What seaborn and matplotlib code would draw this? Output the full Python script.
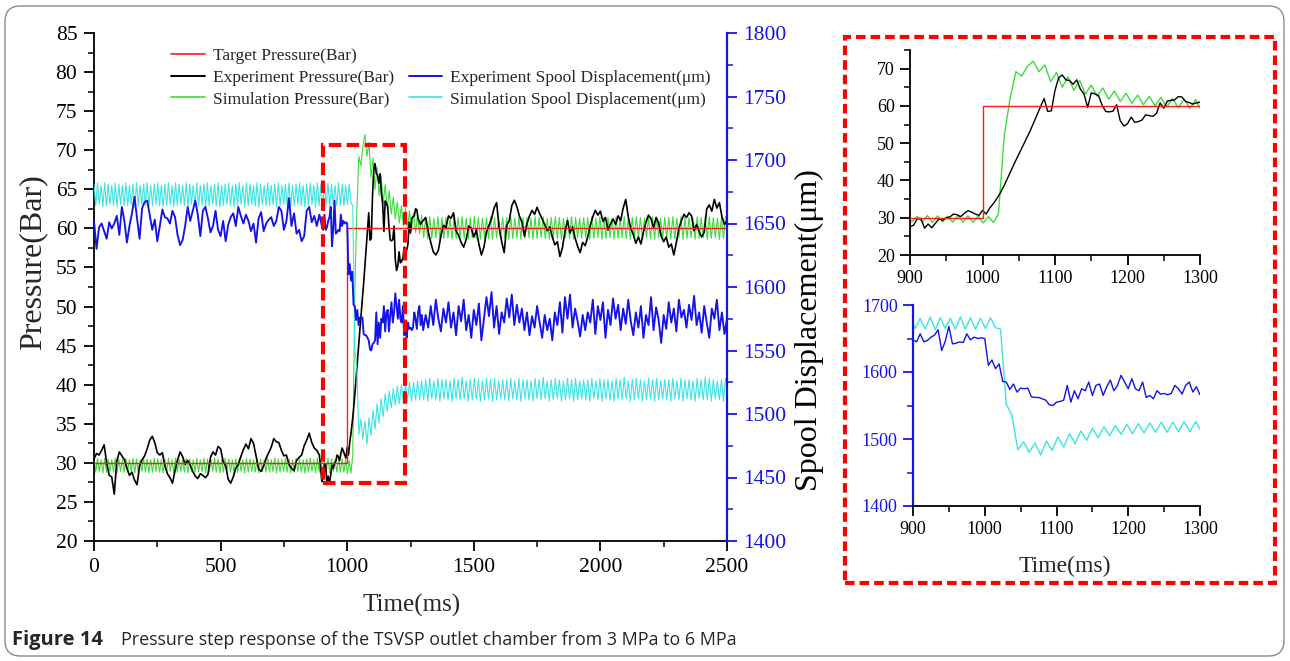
import numpy as np
import matplotlib
matplotlib.use("Agg")
import matplotlib.pyplot as plt
import seaborn as sns
from matplotlib.patches import Rectangle, FancyBboxPatch
from matplotlib.lines import Line2D
from matplotlib.ticker import MultipleLocator

# ---------------------------------------------------------------- data
# target pressure step (Bar)
target_time = [0, 1000, 1000, 2500]
target_pressure = [30, 30, 60, 60]

# measured signals: three segments (start ms, sample step ms)
exp_seg_start = [0, 900, 1300]
exp_seg_step = [10, 5, 10]

exp_pressure_a = [
    30.5, 31.2, 31.0, 31.6, 32.3, 30.0, 28.4, 28.2, 26.0, 30.2,
    31.4, 30.9, 30.4, 29.3, 28.4, 28.8, 27.8, 27.2, 29.6, 30.4,
    30.9, 31.8, 32.9, 33.4, 32.6, 31.3, 31.0, 31.3, 29.6, 28.6,
    28.1, 27.4, 29.0, 30.4, 31.4, 30.8, 29.8, 30.3, 29.7, 28.9,
    28.3, 28.0, 28.6, 28.4, 28.1, 28.5, 30.7, 31.4, 31.0, 32.1,
    31.8, 30.2, 29.6, 27.9, 27.4, 28.2, 29.3, 29.8, 30.8, 31.7,
    32.4, 31.8, 33.1, 32.5, 30.9, 29.2, 28.9, 29.6, 30.6, 31.3,
    32.0, 33.1, 32.7, 32.6, 31.6, 30.9, 31.0, 29.8, 29.3, 29.0,
    30.3, 30.7, 31.0, 32.2, 32.9, 33.8, 32.6, 31.9, 31.6, 31.0,
]
exp_pressure_b = [
    27.6, 28.0, 29.7, 29.8, 27.2, 28.3, 27.3, 28.5, 29.7, 29.3,
    30.0, 30.2, 31.0, 30.8, 30.3, 31.2, 31.9, 31.5, 31.0, 30.6,
    32.0, 31.0, 32.6, 33.8, 35.2, 36.8, 38.7, 40.8, 42.9, 45.0,
    47.0, 49.0, 51.0, 53.0, 55.2, 57.5, 59.8, 62.0, 58.5, 58.7,
    64.2, 67.5, 68.3, 67.0, 66.8, 65.8, 67.0, 64.5, 63.2, 59.6,
    63.5, 63.2, 62.8, 60.2, 58.5, 58.4, 58.6, 60.3, 56.0, 54.6,
    55.2, 57.0, 55.6, 55.8, 56.2, 57.6, 57.4, 57.2, 58.0, 60.8,
    59.4, 61.3, 61.5, 61.6, 62.5, 62.4, 61.2, 60.9, 60.5, 60.8,
]
exp_pressure_c = [
    61.0, 61.4, 59.6, 58.2, 57.0, 56.6, 57.2, 59.0, 60.4, 60.1,
    61.6, 61.3, 62.0, 59.7, 59.1, 58.2, 57.6, 58.6, 60.3, 60.0,
    58.9, 59.8, 58.0, 56.6, 57.6, 59.5, 60.4, 61.2, 62.6, 63.3,
    60.1, 58.3, 56.9, 60.4, 61.0, 62.9, 63.6, 62.8, 61.6, 60.8,
    59.0, 60.6, 61.6, 62.3, 61.8, 62.7, 61.9, 61.2, 60.5, 59.7,
    60.2, 58.9, 57.9, 58.3, 56.4, 57.5, 59.6, 61.0, 59.4, 60.2,
    58.8, 57.7, 56.9, 58.2, 57.8, 58.9, 60.4, 61.5, 62.3, 61.7,
    62.2, 60.9, 61.4, 59.8, 60.6, 61.2, 60.5, 61.6, 61.0, 62.6,
    63.7, 61.5, 60.0, 59.2, 58.1, 58.9, 58.0, 59.5, 60.8, 61.7,
    61.2, 60.1, 61.4, 60.7, 59.0, 58.3, 58.9, 57.6, 58.0, 56.6,
    58.2, 60.0, 61.0, 61.8, 61.4, 62.0, 61.6, 59.7, 60.5, 59.6,
    58.9, 59.5, 62.5, 63.0, 62.2, 63.7, 62.6, 63.3, 61.5, 60.5,
    61.0,
]

exp_disp_a = [
    1652, 1630, 1647, 1650, 1644, 1638, 1651, 1646, 1650, 1656,
    1641, 1663, 1652, 1635, 1648, 1658, 1671, 1654, 1638, 1662,
    1667, 1668, 1657, 1645, 1653, 1636, 1648, 1661, 1655, 1654,
    1650, 1660, 1655, 1641, 1633, 1637, 1648, 1663, 1652, 1660,
    1668, 1657, 1640, 1660, 1663, 1654, 1643, 1648, 1660, 1645,
    1640, 1652, 1636, 1649, 1655, 1658, 1648, 1663, 1656, 1650,
    1657, 1652, 1644, 1650, 1635, 1654, 1659, 1644, 1650, 1653,
    1655, 1648, 1652, 1663, 1660, 1645, 1652, 1670, 1648, 1658,
    1642, 1645, 1636, 1640, 1660, 1663, 1651, 1656, 1648, 1657,
]
exp_disp_b = [
    1648, 1645, 1657, 1645, 1647, 1652, 1655, 1663, 1632, 1646,
    1668, 1642, 1643, 1645, 1644, 1657, 1648, 1652, 1650, 1651,
    1650, 1610, 1618, 1605, 1612, 1586, 1585, 1574, 1582, 1570,
    1576, 1575, 1576, 1563, 1562, 1562, 1560, 1558, 1551, 1550,
    1555, 1556, 1558, 1580, 1555, 1572, 1560, 1575, 1572, 1585,
    1565, 1580, 1582, 1565, 1578, 1588, 1572, 1580, 1595, 1585,
    1575, 1590, 1575, 1572, 1585, 1562, 1565, 1560, 1572, 1567,
    1568, 1566, 1568, 1580, 1575, 1567, 1580, 1585, 1570, 1578,
]
exp_disp_c = [
    1566, 1578, 1568, 1585, 1570, 1590, 1575, 1565, 1583, 1572,
    1588, 1568, 1580, 1562, 1585, 1573, 1590, 1566, 1578, 1560,
    1582, 1570, 1587, 1558, 1575, 1592, 1577, 1596, 1568, 1585,
    1563, 1580, 1572, 1591, 1576, 1594, 1570, 1586, 1572, 1583,
    1566, 1580, 1562, 1577, 1568, 1585, 1572, 1560, 1578, 1566,
    1575, 1558, 1580, 1570, 1588, 1564, 1592, 1575, 1594, 1568,
    1583, 1573, 1561, 1578, 1566, 1580, 1572, 1590, 1563, 1585,
    1574, 1588, 1560, 1582, 1570, 1591, 1575, 1586, 1566, 1583,
    1571, 1590, 1573, 1562, 1580, 1568, 1585, 1560, 1578, 1570,
    1592, 1566, 1584, 1574, 1556, 1578, 1567, 1588, 1572, 1583,
    1565, 1590, 1576, 1582, 1568, 1586, 1574, 1593, 1570, 1580,
    1564, 1585, 1572, 1560, 1583, 1575, 1590, 1566, 1580, 1563,
    1575,
]

# simulated signals: peak / trough samples (start ms, sample step ms)
sim_seg_start = [0, 1022]
sim_seg_step = [7, 8]

sim_pressure_a = [
    30.5, 28.8, 30.6, 28.9, 30.4, 28.7, 30.6, 28.8, 30.5, 28.9, 30.4, 28.8, 30.6, 28.7, 30.5, 28.9, 30.4, 28.8, 30.6, 28.8,
    30.4, 28.9, 30.6, 28.7, 30.5, 28.8, 30.4, 28.9, 30.6, 28.8, 30.5, 28.7, 30.4, 28.8, 30.6, 28.9, 30.5, 28.8, 30.4, 28.7,
    30.5, 28.8, 30.6, 28.9, 30.4, 28.7, 30.6, 28.8, 30.5, 28.9, 30.4, 28.8, 30.6, 28.7, 30.5, 28.9, 30.4, 28.8, 30.6, 28.8,
    30.4, 28.9, 30.6, 28.7, 30.5, 28.8, 30.4, 28.9, 30.6, 28.8, 30.5, 28.7, 30.4, 28.8, 30.6, 28.9, 30.5, 28.8, 30.4, 28.7,
    30.5, 28.8, 30.6, 28.9, 30.4, 28.7, 30.6, 28.8, 30.5, 28.9, 30.4, 28.8, 30.6, 28.7, 30.5, 28.9, 30.4, 28.8, 30.6, 28.8,
    30.4, 28.9, 30.6, 28.7, 30.5, 28.8, 30.4, 28.9, 30.6, 28.8, 30.5, 28.7, 30.4, 28.8, 30.6, 28.9, 30.5, 28.8, 30.4, 28.7,
    30.5, 28.8, 30.6, 28.9, 30.4, 28.7, 30.6, 28.8, 30.5, 28.9, 30.4, 28.8, 30.6, 28.7, 30.5, 28.9, 30.4, 28.8, 30.6, 28.8,
    30.5, 28.8, 30.4, 28.6, 30.3, 28.7,
]
sim_pressure_b = [
    31.0, 52.0, 62.0, 69.2, 68.0, 70.6, 72.0, 69.2, 71.0, 66.5,
    69.0, 65.0, 67.8, 64.2, 66.8, 63.2, 65.6, 62.6, 64.8, 61.8,
    64.0, 61.2, 63.4, 60.7, 62.9, 60.3, 62.6, 60.0, 62.3, 59.7,
    62.0, 59.5, 61.8, 59.3, 61.7,
    58.8, 61.4, 58.6, 61.5, 58.7, 61.3, 58.8, 61.5, 58.6, 61.4, 58.7, 61.4, 58.8, 61.3, 58.6, 61.5, 58.7, 61.4, 58.8, 61.5,
    58.7, 61.3, 58.6, 61.4, 58.8, 61.5, 58.7, 61.4, 58.6, 61.3, 58.8, 61.4, 58.7, 61.5, 58.6, 61.4, 58.8, 61.3, 58.7, 61.4,
    58.8, 61.4, 58.6, 61.5, 58.7, 61.3, 58.8, 61.5, 58.6, 61.4, 58.7, 61.4, 58.8, 61.3, 58.6, 61.5, 58.7, 61.4, 58.8, 61.5,
    58.7, 61.3, 58.6, 61.4, 58.8, 61.5, 58.7, 61.4, 58.6, 61.3, 58.8, 61.4, 58.7, 61.5, 58.6, 61.4, 58.8, 61.3, 58.7, 61.4,
    58.8, 61.4, 58.6, 61.5, 58.7, 61.3, 58.8, 61.5, 58.6, 61.4, 58.7, 61.4, 58.8, 61.3, 58.6, 61.5, 58.7, 61.4, 58.8, 61.5,
    58.7, 61.3, 58.6, 61.4, 58.8, 61.5, 58.7, 61.4, 58.6, 61.3, 58.8, 61.4, 58.7, 61.5, 58.6, 61.4, 58.8, 61.3, 58.7, 61.4,
    58.8, 61.4, 58.6, 61.5, 58.7, 61.3, 58.8, 61.5, 58.6, 61.4, 58.7, 61.4, 58.8, 61.3, 58.6, 61.5, 58.7, 61.4, 58.8, 61.5,
    58.6, 61.5, 58.7, 61.4, 58.8, 61.3, 58.6, 61.4, 58.7, 61.5,
]

sim_disp_a = [
    1681, 1664, 1682, 1665, 1680, 1663, 1682, 1664, 1681, 1665, 1680, 1664, 1682, 1663, 1681, 1665, 1680, 1664, 1682, 1664,
    1680, 1665, 1681, 1663, 1682, 1664, 1680, 1665, 1681, 1664, 1682, 1663, 1680, 1664, 1681, 1665, 1682, 1664, 1680, 1663,
    1681, 1664, 1682, 1665, 1680, 1663, 1682, 1664, 1681, 1665, 1680, 1664, 1682, 1663, 1681, 1665, 1680, 1664, 1682, 1664,
    1680, 1665, 1681, 1663, 1682, 1664, 1680, 1665, 1681, 1664, 1682, 1663, 1680, 1664, 1681, 1665, 1682, 1664, 1680, 1663,
    1681, 1664, 1682, 1665, 1680, 1663, 1682, 1664, 1681, 1665, 1680, 1664, 1682, 1663, 1681, 1665, 1680, 1664, 1682, 1664,
    1680, 1665, 1681, 1663, 1682, 1664, 1680, 1665, 1681, 1664, 1682, 1663, 1680, 1664, 1681, 1665, 1682, 1664, 1680, 1663,
    1681, 1664, 1682, 1665, 1680, 1663, 1682, 1664, 1681, 1665, 1680, 1664, 1682, 1663, 1681, 1665, 1680, 1664, 1682, 1664,
    1681, 1664, 1680, 1665, 1681, 1666,
]
sim_disp_b = [
    1664, 1552, 1535, 1484, 1496, 1480, 1494, 1476, 1497, 1483,
    1503, 1488, 1508, 1493, 1512, 1498, 1516, 1502, 1518, 1505,
    1520, 1507, 1522, 1508, 1523, 1509, 1524, 1510, 1525, 1510,
    1525, 1511, 1526, 1511, 1526,
    1511, 1527, 1510, 1528, 1512, 1526, 1511, 1528, 1510, 1527, 1512, 1527, 1511, 1526, 1510, 1528, 1512, 1527, 1511, 1529,
    1512, 1526, 1510, 1527, 1511, 1528, 1512, 1527, 1510, 1526, 1511, 1528, 1512, 1527, 1510, 1528, 1511, 1526, 1512, 1527,
    1511, 1527, 1510, 1528, 1512, 1526, 1511, 1528, 1510, 1527, 1512, 1527, 1511, 1526, 1510, 1528, 1512, 1527, 1511, 1529,
    1512, 1526, 1510, 1527, 1511, 1528, 1512, 1527, 1510, 1526, 1511, 1528, 1512, 1527, 1510, 1528, 1511, 1526, 1512, 1527,
    1511, 1527, 1510, 1528, 1512, 1526, 1511, 1528, 1510, 1527, 1512, 1527, 1511, 1526, 1510, 1528, 1512, 1527, 1511, 1529,
    1512, 1526, 1510, 1527, 1511, 1528, 1512, 1527, 1510, 1526, 1511, 1528, 1512, 1527, 1510, 1528, 1511, 1526, 1512, 1527,
    1511, 1527, 1510, 1528, 1512, 1526, 1511, 1528, 1510, 1527, 1512, 1527, 1511, 1526, 1510, 1528, 1512, 1527, 1511, 1529,
    1511, 1528, 1510, 1527, 1512, 1526, 1511, 1527, 1510, 1528,
]

legend_labels = [
    "Target Pressure(Bar)", "Experiment Pressure(Bar)", "Simulation Pressure(Bar)",
    "", "Experiment Spool Displacement(\u03bcm)", "Simulation Spool Displacement(\u03bcm)",
]


def assemble(starts, steps, chunks):
    t, y = [], []
    for s, d, c in zip(starts, steps, chunks):
        t.append(s + d * np.arange(len(c)))
        y.append(np.asarray(c, dtype=float))
    return np.concatenate(t), np.concatenate(y)


t_exp, exp_pressure = assemble(exp_seg_start, exp_seg_step,
                               [exp_pressure_a, exp_pressure_b, exp_pressure_c])
_, exp_disp = assemble(exp_seg_start, exp_seg_step, [exp_disp_a, exp_disp_b, exp_disp_c])
t_sim, sim_pressure = assemble(sim_seg_start, sim_seg_step, [sim_pressure_a, sim_pressure_b])
_, sim_disp = assemble(sim_seg_start, sim_seg_step, [sim_disp_a, sim_disp_b])

# ---------------------------------------------------------------- style
sns.set_theme(style="ticks")
SERIF = ["Liberation Serif", "DejaVu Serif"]
plt.rcParams["font.family"] = "serif"
plt.rcParams["font.serif"] = SERIF
plt.rcParams["axes.linewidth"] = 1.3

RED, BLACK, GREEN = "#ff1a1a", "#000000", "#3ddc3d"
BLUE, CYAN = "#1414e6", "#3fe3e3"

W, H = 1290, 661
fig = plt.figure(figsize=(W / 100, H / 100), dpi=100)
fig.patch.set_facecolor("white")


def fx(px):
    return px / W


def fy(py):
    return 1 - py / H


def line(ax, x, y, color, lw, z):
    sns.lineplot(x=x, y=y, ax=ax, color=color, linewidth=lw, estimator=None,
                 sort=False, legend=False, zorder=z)


def style_ticks(ax, size, xcolor="black", ycolor="black", pad=4):
    ax.tick_params(which="major", direction="out", length=7, width=1.3, labelsize=size, pad=pad)
    ax.tick_params(which="minor", direction="out", length=4, width=1.1)
    ax.tick_params(axis="y", which="both", colors=ycolor, labelcolor=ycolor)
    ax.tick_params(axis="x", which="both", colors=xcolor, labelcolor=xcolor)


# ---------------------------------------------------------------- main chart
ax = fig.add_axes([fx(94), fy(541), fx(727) - fx(94), fy(33) - fy(541)])
line(ax, t_sim, sim_pressure, GREEN, 0.8, 2)
line(ax, t_exp, exp_pressure, BLACK, 1.2, 3)
line(ax, target_time, target_pressure, RED, 1.0, 4)
ax.set_xlim(0, 2500)
ax.set_ylim(20, 85)
ax.xaxis.set_major_locator(MultipleLocator(500))
ax.xaxis.set_minor_locator(MultipleLocator(250))
ax.yaxis.set_major_locator(MultipleLocator(5))
ax.yaxis.set_minor_locator(MultipleLocator(2.5))
for s in ("top", "right"):
    ax.spines[s].set_visible(False)
for s in ("left", "bottom"):
    ax.spines[s].set_color("black")
style_ticks(ax, 15.5, pad=5)
ax.set_xlabel("Time(ms)", fontsize=18)
ax.set_ylabel("Pressure(Bar)", fontsize=23)
ax.xaxis.set_label_coords(0.502, -0.126)
ax.yaxis.set_label_coords(-0.097, 0.549)
for lab in (ax.xaxis.label, ax.yaxis.label):
    lab.set_va("center")
    lab.set_ha("center")

ax2 = ax.twinx()
line(ax2, t_sim, sim_disp, CYAN, 0.8, 2)
line(ax2, t_exp, exp_disp, BLUE, 1.35, 3)
ax2.set_ylim(1400, 1800)
ax2.yaxis.set_major_locator(MultipleLocator(50))
ax2.yaxis.set_minor_locator(MultipleLocator(25))
for s in ("top", "left", "bottom"):
    ax2.spines[s].set_visible(False)
ax2.spines["right"].set_color(BLUE)
ax2.spines["right"].set_linewidth(1.6)
style_ticks(ax2, 15.5, ycolor=BLUE, pad=5)
ax2.set_ylabel("Spool Displacement(\u03bcm)", fontsize=23, color="black")
ax2.yaxis.set_label_coords(1.131, 0.415)
ax2.yaxis.label.set_va("center")
ax2.yaxis.label.set_ha("center")

# zoom window marker on the main chart
ax2.add_patch(Rectangle((904, 27.4), 324, 43.3, transform=ax.transData, fill=False,
                        ec="#ff0000", lw=3.0, ls=(0, (3.0, 1.3)), clip_on=False, zorder=10))

handles = [
    Line2D([], [], color=RED, lw=1.2), Line2D([], [], color=BLACK, lw=1.4),
    Line2D([], [], color=GREEN, lw=1.2), Line2D([], [], color="none"),
    Line2D([], [], color=BLUE, lw=1.4), Line2D([], [], color=CYAN, lw=1.2),
]
ax.legend(handles, legend_labels, ncol=2, loc="upper left",
          bbox_to_anchor=(fx(171), fy(48)), bbox_transform=fig.transFigure,
          frameon=False, fontsize=12.5, handlelength=1.95, handletextpad=0.45,
          columnspacing=0.85, labelspacing=0.32, borderpad=0, borderaxespad=0)

# ---------------------------------------------------------------- detail panels
ax3 = fig.add_axes([fx(910), fy(255), fx(1200) - fx(910), fy(50) - fy(255)])
line(ax3, t_sim, sim_pressure, GREEN, 1.0, 2)
line(ax3, t_exp, exp_pressure, BLACK, 1.0, 3)
line(ax3, target_time, target_pressure, RED, 1.0, 4)
ax3.set_xlim(900, 1300)
ax3.set_ylim(20, 75)
ax3.set_yticks([20, 30, 40, 50, 60, 70])
ax3.xaxis.set_major_locator(MultipleLocator(100))
ax3.xaxis.set_minor_locator(MultipleLocator(50))
ax3.yaxis.set_minor_locator(MultipleLocator(5))
for s in ("top", "right"):
    ax3.spines[s].set_visible(False)
for s in ("left", "bottom"):
    ax3.spines[s].set_color("black")
style_ticks(ax3, 13)

ax4 = fig.add_axes([fx(913), fy(506), fx(1200) - fx(913), fy(305) - fy(506)])
line(ax4, t_sim, sim_disp, CYAN, 1.0, 2)
line(ax4, t_exp, exp_disp, BLUE, 1.0, 3)
ax4.set_xlim(900, 1300)
ax4.set_ylim(1400, 1700)
ax4.xaxis.set_major_locator(MultipleLocator(100))
ax4.xaxis.set_minor_locator(MultipleLocator(50))
ax4.yaxis.set_major_locator(MultipleLocator(100))
ax4.yaxis.set_minor_locator(MultipleLocator(50))
for s in ("top", "right"):
    ax4.spines[s].set_visible(False)
ax4.spines["left"].set_color(BLUE)
ax4.spines["left"].set_linewidth(1.6)
ax4.spines["bottom"].set_color("black")
style_ticks(ax4, 13, ycolor=BLUE)
ax4.set_xlabel("Time(ms)", fontsize=17)
ax4.xaxis.set_label_coords(0.53, -0.303)
ax4.xaxis.label.set_va("center")

fig.add_artist(Rectangle((fx(845), fy(583)), fx(1275) - fx(845), fy(37) - fy(583),
                         transform=fig.transFigure, fill=False, ec="#ff0000",
                         lw=3.0, ls=(0, (2.3, 1.2)), zorder=10))

# ---------------------------------------------------------------- frame and caption
fig.add_artist(FancyBboxPatch((fx(5), fy(656)), fx(1284) - fx(5), fy(6) - fy(656),
                              boxstyle="round,pad=0,rounding_size=0.012",
                              mutation_aspect=W / H, transform=fig.transFigure,
                              fill=False, ec="#8a8a8a", lw=1.0))
fig.text(fx(12), fy(640), "Figure 14", family=["Open Sans"], weight="bold",
         fontsize=14.5, va="center", ha="left")
fig.text(fx(121), fy(640),
         "Pressure step response of the TSVSP outlet chamber from 3 MPa to 6 MPa",
         family=["Open Sans"], fontsize=12.9, va="center", ha="left")

fig.savefig("out.png", dpi=100, facecolor="white")
